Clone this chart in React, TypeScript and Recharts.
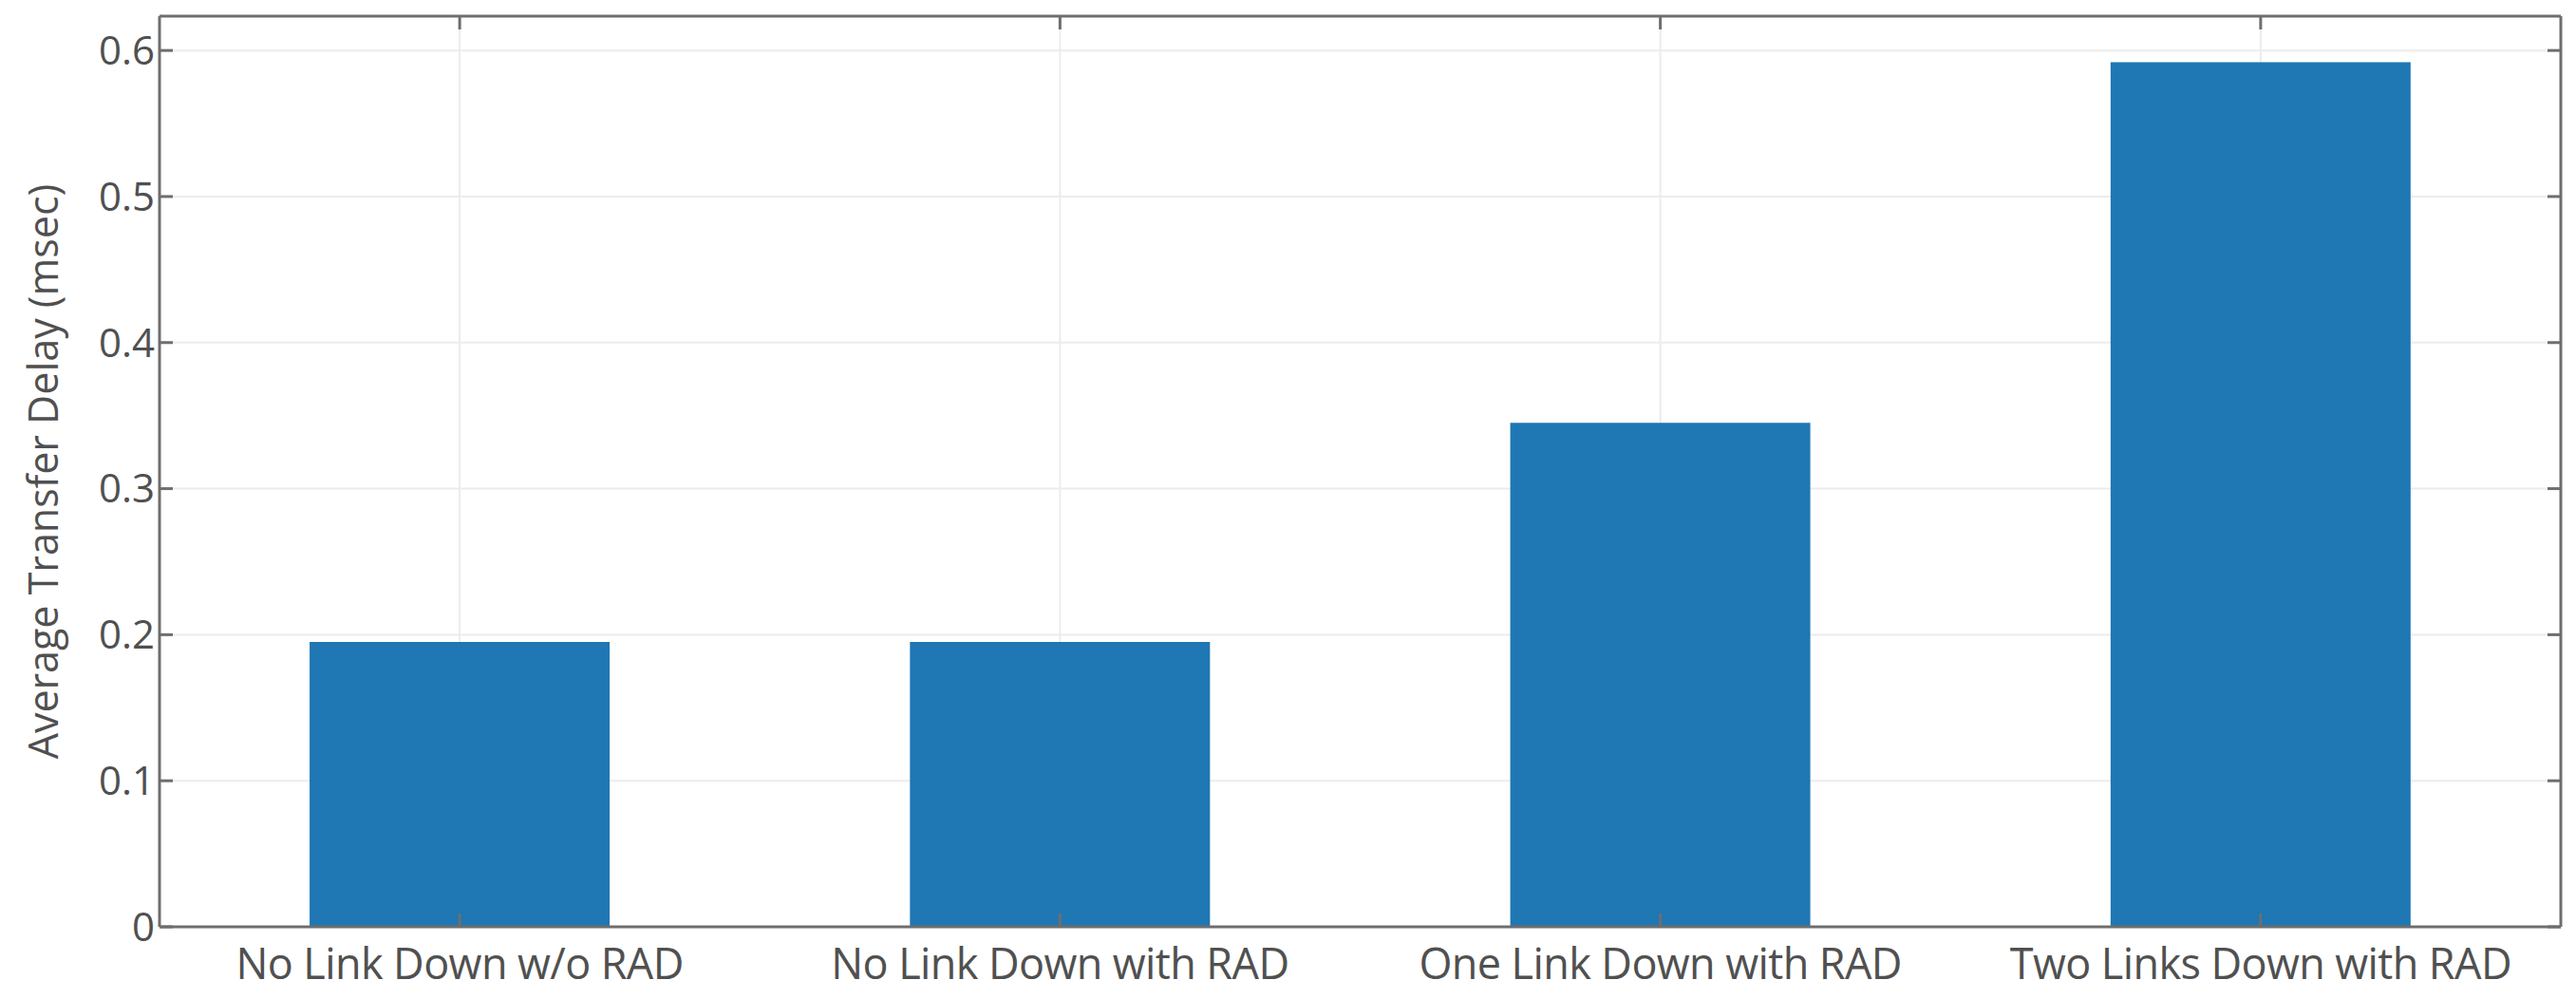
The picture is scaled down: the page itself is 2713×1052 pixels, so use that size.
import React from 'react';
import {
  BarChart,
  Bar,
  XAxis,
  YAxis,
  CartesianGrid,
  Label,
} from 'recharts';

const scenarios = [
  'No Link Down w/o RAD',
  'No Link Down with RAD',
  'One Link Down with RAD',
  'Two Links Down with RAD',
];
const delayMs = [0.195, 0.195, 0.345, 0.592];
const yTicks = [0, 0.1, 0.2, 0.3, 0.4, 0.5, 0.6];
const yDomain = [0, 0.6235];

const data = scenarios.map((name, i) => ({ name, delay: delayMs[i] }));

const axisColor = '#6e6e6e';
const textColor = '#505050';
const font = '"Open Sans", "Noto Sans", sans-serif';

const noLabel = () => <g />;

export default function App() {
  return (
    <div style={{ position: 'absolute', left: 0, top: 0, background: '#fff' }}>
      <BarChart
        width={2713}
        height={1052}
        data={data}
        margin={{ top: 0, right: 0, left: 0, bottom: 0 }}
        barCategoryGap="25%"
        style={{ fontFamily: font }}
      >
        <CartesianGrid xAxisId="bottom" yAxisId="left" stroke="#ececec" strokeWidth={2} />
        <XAxis
          xAxisId="bottom"
          dataKey="name"
          height={76}
          stroke={axisColor}
          strokeWidth={3}
          tickSize={-14}
          tickMargin={37}
          tick={{ fill: textColor, fontSize: 45, letterSpacing: -0.6 }}
          interval={0}
        />
        <XAxis
          xAxisId="top"
          orientation="top"
          dataKey="name"
          height={17}
          stroke={axisColor}
          strokeWidth={3}
          tickSize={-14}
          tick={noLabel}
        />
        <YAxis
          yAxisId="left"
          width={168}
          domain={yDomain}
          ticks={yTicks}
          allowDataOverflow
          stroke={axisColor}
          strokeWidth={3}
          tickSize={-14}
          tickMargin={19}
          tick={{ fill: textColor, fontSize: 42 }}
        >
          <Label
            value="Average Transfer Delay (msec)"
            angle={-90}
            position="insideLeft"
            offset={38}
            dx={8}
            style={{ fill: textColor, fontSize: 43, textAnchor: 'middle' }}
          />
        </YAxis>
        <YAxis
          yAxisId="right"
          orientation="right"
          width={16}
          domain={yDomain}
          ticks={yTicks}
          allowDataOverflow
          stroke={axisColor}
          strokeWidth={3}
          tickSize={-14}
          tick={noLabel}
        />
        <Bar
          xAxisId="bottom"
          yAxisId="left"
          dataKey="delay"
          fill="#1f77b4"
          isAnimationActive={false}
        />
      </BarChart>
    </div>
  );
}
